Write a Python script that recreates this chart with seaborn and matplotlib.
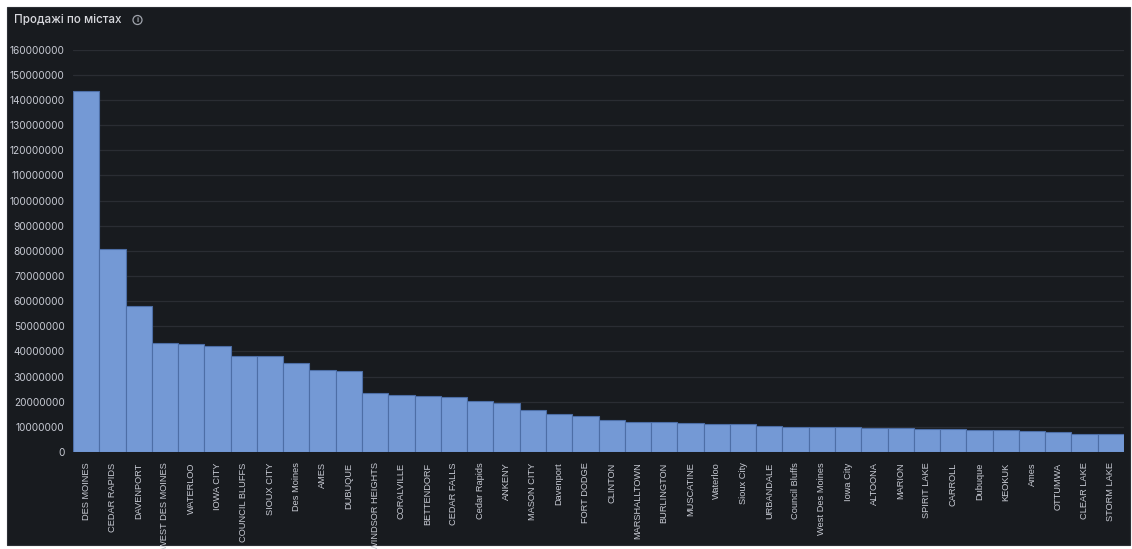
import matplotlib
matplotlib.use("Agg")
import matplotlib.pyplot as plt
import matplotlib.patches as mpatches
from matplotlib.ticker import FuncFormatter, MultipleLocator
import pandas as pd
import seaborn as sns

# Sales by city
cities = [
    "DES MOINES", "CEDAR RAPIDS", "DAVENPORT", "WEST DES MOINES", "WATERLOO",
    "IOWA CITY", "COUNCIL BLUFFS", "SIOUX CITY", "Des Moines", "AMES",
    "DUBUQUE", "WINDSOR HEIGHTS", "CORALVILLE", "BETTENDORF", "CEDAR FALLS",
    "Cedar Rapids", "ANKENY", "MASON CITY", "Davenport", "FORT DODGE",
    "CLINTON", "MARSHALLTOWN", "BURLINGTON", "MUSCATINE", "Waterloo",
    "Sioux City", "URBANDALE", "Council Bluffs", "West Des Moines", "Iowa City",
    "ALTOONA", "MARION", "SPIRIT LAKE", "CARROLL", "Dubuque",
    "KEOKUK", "Ames", "OTTUMWA", "CLEAR LAKE", "STORM LAKE",
]
sales = [
    143600000, 80900000, 58200000, 43500000, 43100000,
    42300000, 38300000, 38300000, 35400000, 32500000,
    32200000, 23600000, 22800000, 22400000, 21900000,
    20200000, 19600000, 16600000, 15300000, 14300000,
    12600000, 12100000, 11900000, 11700000, 11300000,
    11000000, 10300000, 9900000, 9900000, 10100000,
    9700000, 9400000, 9300000, 9200000, 8900000,
    8800000, 8400000, 8000000, 7200000, 7000000,
]
title = "Продажі по містах"

df = pd.DataFrame({"city": cities, "sales": sales})

sns.set_theme(style="dark")
plt.rcParams["font.family"] = ["Inter", "DejaVu Sans"]

W, H = 1132, 549
fig = plt.figure(figsize=(W / 100, H / 100), dpi=100, facecolor="white")

# dark panel behind everything
panel_bg = "#181b1f"
fig.patches.append(mpatches.Rectangle(
    (7 / W, 1 - 545 / H), (1130 - 7) / W, (545 - 7) / H,
    transform=fig.transFigure, facecolor=panel_bg, edgecolor="#2c2f35",
    linewidth=0.8, zorder=-10))

ax = fig.add_axes([73 / W, 1 - 452 / H, (1124 - 73) / W, (452 - 49.7) / H])
ax.set_facecolor(panel_bg)

sns.barplot(data=df, x="city", y="sales", ax=ax, width=1.0,
            color="#7499d5", saturation=1, edgecolor="#4d6ea6", linewidth=0.8)

ax.set_ylim(0, 160000000)
ax.set_xlim(-0.5, len(cities) - 0.5)
ax.yaxis.set_major_locator(MultipleLocator(10000000))
ax.yaxis.set_major_formatter(FuncFormatter(lambda v, _: f"{int(round(v))}"))
ax.grid(axis="y", color="#2a2d33", linewidth=0.9)
ax.grid(axis="x", visible=False)
ax.set_axisbelow(True)
for s in ax.spines.values():
    s.set_visible(False)
ax.set_xlabel("")
ax.set_ylabel("")

tick_color = "#c7cad3"
ax.tick_params(axis="y", colors=tick_color, labelsize=7.3, length=0, pad=6)
ax.tick_params(axis="x", colors=tick_color, length=0, pad=7.5)
for lbl in ax.get_xticklabels():
    lbl.set_rotation(90)
    lbl.set_va("top")
    lbl.set_ha("center")
    lbl.set_fontfamily(["Liberation Sans", "DejaVu Sans"])
    lbl.set_fontsize(6.7)

# panel title with info icon
fig.text(14 / W, 1 - 20 / H, title, color="#d8d9de", fontsize=8.4,
         fontweight="medium", va="center", ha="left")
fig.patches.append(mpatches.Ellipse(
    (137.5 / W, 1 - 20 / H), 9 / W, 9 / H, transform=fig.transFigure,
    facecolor="none", edgecolor="#9fa3ab", linewidth=0.9))
fig.text(137.5 / W, 1 - 20.3 / H, "i", color="#9fa3ab", fontsize=5.5,
         fontweight="bold", va="center", ha="center")

fig.savefig("out.png", dpi=100, facecolor=fig.get_facecolor())
